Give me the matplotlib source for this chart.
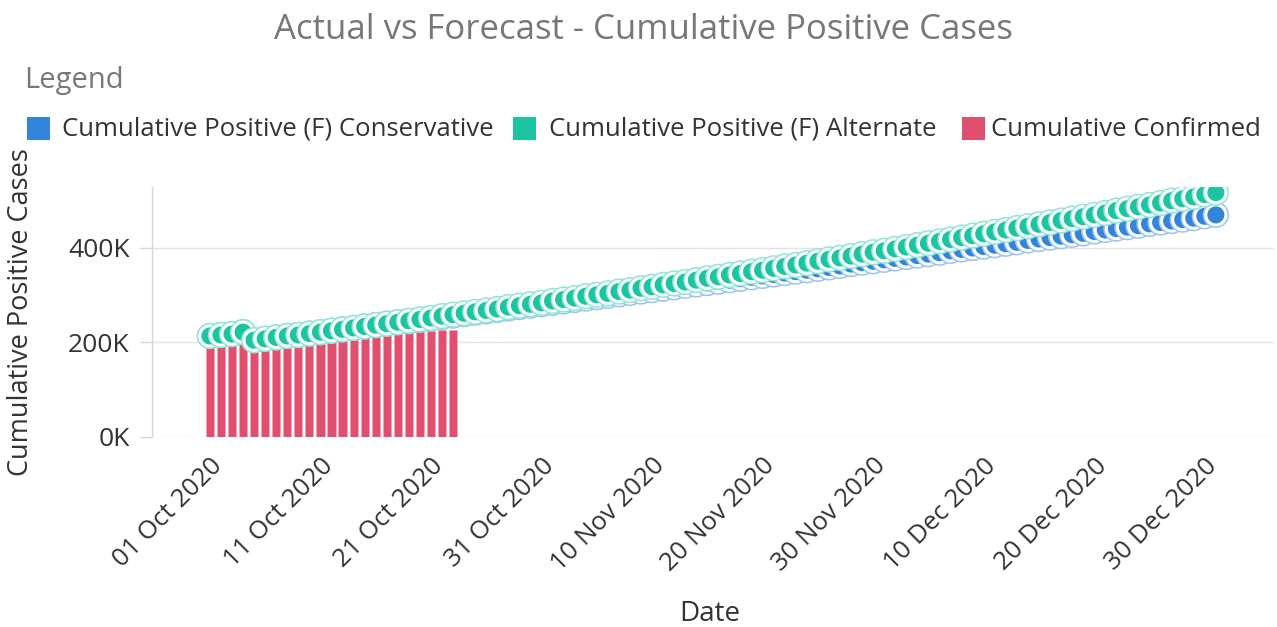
import datetime as dt
import matplotlib
matplotlib.use("Agg")
import matplotlib.pyplot as plt
import matplotlib.dates as mdates
import matplotlib.patheffects as pe
from matplotlib.patches import Rectangle
from matplotlib.ticker import FuncFormatter

plt.rcParams['font.family'] = ['Open Sans', 'DejaVu Sans']

# ---- data ----
start = dt.date(2020, 10, 1)
forecast_dates = [start + dt.timedelta(days=i) for i in range(92)]   # 01 Oct .. 31 Dec
confirmed_dates = [start + dt.timedelta(days=i) for i in range(23)]  # 01 Oct .. 23 Oct

conservative_k = [213, 215, 217, 221,
    204, 207, 210, 213, 215, 218, 221, 224, 227, 230, 233, 236, 239, 242, 244, 247,
    250, 253, 256, 259, 262, 265, 268, 271, 274, 277, 280, 283, 286, 289, 292, 295,
    298, 301, 304, 307, 310, 313, 316, 319, 322, 325, 328, 331, 334, 337, 340, 343,
    346, 349, 352, 355, 358, 361, 365, 368, 371, 374, 377, 380, 383, 386, 389, 393,
    396, 399, 402, 405, 408, 411, 415, 418, 421, 424, 427, 430, 434, 437, 440, 443,
    446, 450, 453, 456, 459, 462, 466, 469]

alternate_k = [213, 215, 217, 221,
    204, 207, 210, 213, 215, 218, 221, 224, 227, 230, 233, 236, 239, 242, 245, 248,
    251, 255, 258, 261, 264, 267, 270, 274, 277, 280, 283, 287, 290, 293, 297, 300,
    303, 307, 310, 314, 317, 321, 324, 327, 331, 335, 338, 342, 345, 349, 352, 356,
    360, 363, 367, 371, 375, 378, 382, 386, 390, 393, 397, 401, 405, 409, 413, 417,
    421, 425, 429, 433, 437, 441, 445, 449, 453, 457, 461, 465, 469, 473, 478, 482,
    486, 490, 494, 499, 503, 507, 512, 516]

confirmed_k = [203, 204, 205, 206, 207, 208, 209, 210, 211, 212, 213, 214, 215,
               216, 217, 218, 220, 221, 222, 223, 224, 225, 226]

series_names = ["Cumulative Positive (F) Conservative",
                "Cumulative Positive (F) Alternate",
                "Cumulative Confirmed"]
tick_dates = [start + dt.timedelta(days=10 * i) for i in range(10)]  # 01 Oct .. 30 Dec
y_ticks = [0, 200000, 400000]

# ---- style ----
C_BLUE, C_BLUE_L = "#3385db", "#9cc3ee"
C_GREEN, C_GREEN_L = "#1cc4a2", "#8fe6d6"
C_RED, C_RED_L = "#e14f6e", "#f5a3b4"
GRID = "#e3e3e3"
TXT = "#333333"

fig = plt.figure(figsize=(12.77, 6.27), dpi=100)
ax = fig.add_axes([0.119, 0.3035, 0.879, 0.3983])

# bars
ax.bar(confirmed_dates, [v * 1000 for v in confirmed_k], width=0.74,
       color=C_RED, edgecolor=C_RED_L, linewidth=0.6, zorder=2)

# forecast markers
ax.scatter(forecast_dates, [v * 1000 for v in conservative_k], s=210,
           facecolor=C_BLUE, edgecolor="white", linewidth=2.2, zorder=3,
           path_effects=[pe.withStroke(linewidth=4.4, foreground=C_BLUE_L)])
ax.scatter(forecast_dates, [v * 1000 for v in alternate_k], s=210,
           facecolor=C_GREEN, edgecolor="white", linewidth=2.2, zorder=4,
           path_effects=[pe.withStroke(linewidth=4.4, foreground=C_GREEN_L)])

x0 = mdates.date2num(start)
ax.set_xlim(x0 - 5.24, x0 + 96.3)
ax.set_ylim(0, 528000)

ax.set_yticks(y_ticks)
ax.yaxis.set_major_formatter(FuncFormatter(lambda v, p: f"{int(v/1000)}K"))
ax.set_xticks([mdates.date2num(d) for d in tick_dates])
ax.xaxis.set_major_formatter(mdates.DateFormatter("%d %b %Y"))

ax.grid(axis="y", color=GRID, linewidth=1.0, zorder=0)
ax.set_axisbelow(True)
for s in ["top", "right", "bottom"]:
    ax.spines[s].set_visible(False)
ax.spines["left"].set_color("#d6d6d6")
ax.spines["left"].set_linewidth(1.0)

ax.tick_params(axis="y", length=9, width=1, color="#d6d6d6", labelsize=19,
               labelcolor=TXT, pad=7)
ax.tick_params(axis="x", length=0, labelsize=18.5, labelcolor=TXT, pad=12)
for lbl in ax.get_xticklabels():
    lbl.set_rotation(45)
    lbl.set_ha("right")
    lbl.set_va("top")
    lbl.set_rotation_mode("anchor")

ax.set_ylabel("Cumulative Positive Cases", fontsize=19.5, color=TXT)
ax.yaxis.set_label_coords(-0.104, 0.5)
ax.set_xlabel("Date", fontsize=20, color=TXT)
ax.xaxis.set_label_coords(0.497, -0.655)

# title & legend
fig.text(0.504, 0.952, "Actual vs Forecast - Cumulative Positive Cases",
         ha="center", va="center", fontsize=25, color="#777777")
fig.text(0.019, 0.872, "Legend", ha="left", va="center", fontsize=21, color="#777777")

legend_items = [(27, C_BLUE, 62), (513, C_GREEN, 549), (962, C_RED, 991)]
for (sx, col, tx), name in zip(legend_items, series_names):
    fig.add_artist(Rectangle((sx / 1277, 1 - 140 / 627), 23 / 1277, 23 / 627,
                             transform=fig.transFigure, facecolor=col,
                             edgecolor="none"))
    fig.text(tx / 1277, 1 - 129 / 627, name, ha="left", va="center",
             fontsize=18.5, color=TXT)

fig.savefig("out.png", dpi=100)
